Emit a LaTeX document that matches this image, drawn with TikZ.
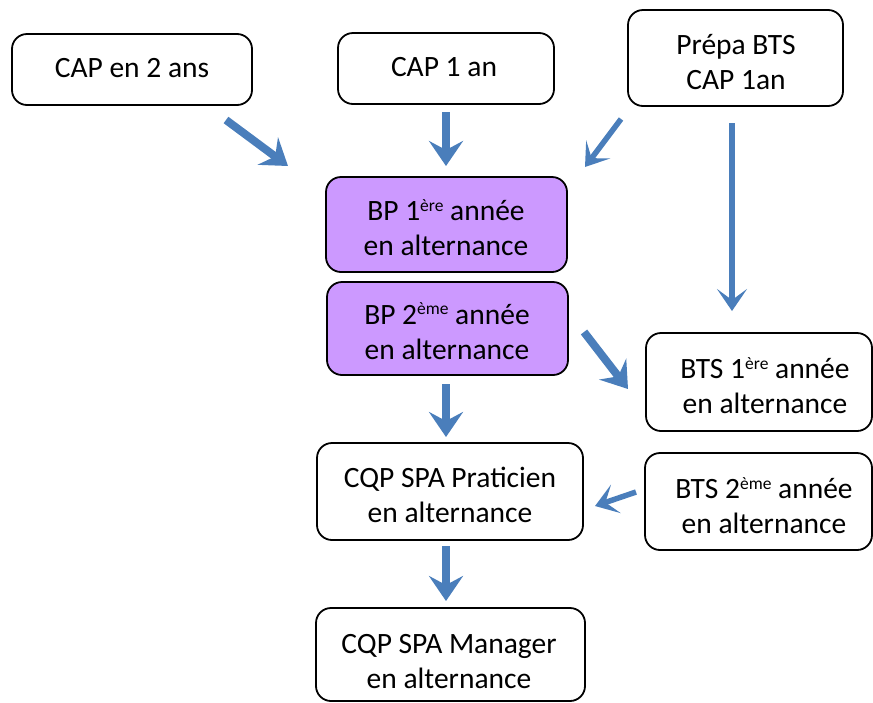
\documentclass[tikz,border=0pt]{standalone}
\usepackage{fontspec}
\setmainfont{Carlito}
\usetikzlibrary{arrows.meta}
\definecolor{bparrow}{HTML}{4A7EBB}
\definecolor{bpfill}{HTML}{CC99FF}
\tikzset{
  box/.style={draw=black, line width=1.8pt, rounded corners=15pt, fill=white, inner sep=0pt},
  purplebox/.style={box, fill=bpfill},
  txt/.style={align=center, inner sep=0pt, font=\fontsize{29.5}{35}\selectfont},
  bigarrow/.style={draw=bparrow, line width=8pt, -{Stealth[length=25pt, width=34pt, inset=9pt]}},
  thinarrow/.style={draw=bparrow, line width=5.5pt, -{Stealth[length=22pt, width=30pt, inset=11pt]}}
}
\newcommand{\sups}[1]{\raisebox{9.5pt}{\fontsize{17.5}{17.5}\selectfont #1}}
\begin{document}
\begin{tikzpicture}[x=1pt,y=-1pt]
\useasboundingbox (0,0) rectangle (873,702);
\begin{scope}
\clip (0,0) rectangle (873,702);
\node[box, minimum width=240pt, minimum height=71pt] (cap2) at (132,69.5) {};
\node[box, minimum width=216pt, minimum height=71pt] (cap1) at (446,68.5) {};
\node[box, minimum width=215pt, minimum height=96pt] (prepa) at (735.5,58) {};
\node[purplebox, minimum width=241pt, minimum height=95pt] (bp1) at (446.5,224.5) {};
\node[purplebox, minimum width=241pt, minimum height=93pt] (bp2) at (447.5,328.5) {};
\node[box, minimum width=226pt, minimum height=98pt] (bts1) at (759,382) {};
\node[box, minimum width=266pt, minimum height=97pt] (cqpp) at (450,491.5) {};
\node[box, minimum width=227pt, minimum height=97pt] (bts2) at (758.5,501.5) {};
\node[box, minimum width=269pt, minimum height=93pt] (cqpm) at (450.5,654.5) {};
\end{scope}

\node[txt] (cap2t) at (132,68) {CAP en 2 ans};
\node[txt] (cap1t) at (444,67) {CAP 1 an};
\node[txt] (prepat) at (736,62.5) {Prépa BTS\\CAP 1an};
\node[txt] (bp1t) at (446,227.5) {BP 1\sups{ère} année\\en alternance};
\node[txt] (bp2t) at (447,331) {BP 2\sups{ème} année\\en alternance};
\node[txt] (bts1t) at (765,385.5) {BTS 1\sups{ère} année\\en alternance};
\node[txt] (cqppt) at (450,495) {CQP SPA Praticien\\en alternance};
\node[txt] (bts2t) at (764,505.5) {BTS 2\sups{ème} année\\en alternance};
\node[txt] (cqpmt) at (449,661.5) {CQP SPA Manager\\en alternance};

\coordinate (a1s) at (226,120); \coordinate (a1e) at (288,166);
\coordinate (a2s) at (446,112); \coordinate (a2e) at (446,166);
\coordinate (a3s) at (621,119); \coordinate (a3e) at (585,167);
\coordinate (a4s) at (732,123); \coordinate (a4e) at (732,311);
\coordinate (a5s) at (584,332); \coordinate (a5e) at (628,389);
\coordinate (a6s) at (446,384); \coordinate (a6e) at (446,437);
\coordinate (a7s) at (636,492); \coordinate (a7e) at (595,506);
\coordinate (a8s) at (446,546); \coordinate (a8e) at (446,601);

\draw[bigarrow] (a1s) -- (a1e);
\draw[bigarrow] (a2s) -- (a2e);
\draw[thinarrow] (a3s) -- (a3e);
\draw[thinarrow] (a4s) -- (a4e);
\draw[bigarrow] (a5s) -- (a5e);
\draw[bigarrow] (a6s) -- (a6e);
\draw[thinarrow] (a7s) -- (a7e);
\draw[bigarrow] (a8s) -- (a8e);
\end{tikzpicture}
\end{document}
